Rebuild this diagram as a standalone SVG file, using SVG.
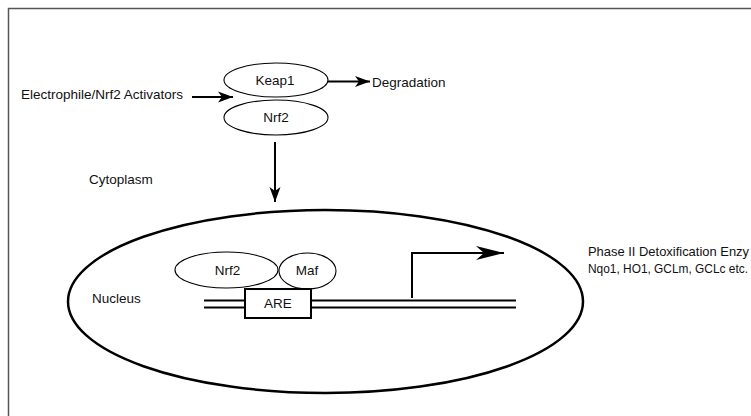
<svg xmlns="http://www.w3.org/2000/svg" width="751" height="416" viewBox="0 0 751 416">
<defs>
<marker id="ah" markerUnits="userSpaceOnUse" markerWidth="20" markerHeight="16" refX="15" refY="6" orient="auto" viewBox="0 0 20 12">
<path d="M0,0.5 L15,6 L0,11.5 L4,6 Z" fill="#000"/>
</marker>
<marker id="ahb" markerUnits="userSpaceOnUse" markerWidth="30" markerHeight="16" refX="28" refY="7" orient="auto" viewBox="0 0 30 14">
<path d="M0,0 L28,7 L0,14 L8,7 Z" fill="#000"/>
</marker>
</defs>
<style>
text{font-family:"Liberation Sans",Arial,sans-serif;font-size:13.5px;fill:#111}
.c{text-anchor:middle}
.thin{fill:#fff;stroke:#000;stroke-width:1.1}
.arr{fill:none;stroke:#000;stroke-width:2}
.dna{fill:none;stroke:#000;stroke-width:2}
</style>
<rect width="751" height="416" fill="#fff"/>
<rect x="8.5" y="8.5" width="800" height="500" fill="none" stroke="#555" stroke-width="1.5"/>
<g id="labels">
<text x="21" y="98.5">Electrophile/Nrf2 Activators</text>
<text x="372" y="86.5">Degradation</text>
<text x="89" y="184">Cytoplasm</text>
<text x="92" y="303">Nucleus</text>
<text x="588" y="256" style="font-size:13px" textLength="161" lengthAdjust="spacingAndGlyphs">Phase II Detoxification Enzy</text>
<text x="588" y="273" style="font-size:13px" textLength="160" lengthAdjust="spacingAndGlyphs">Nqo1, HO1, GCLm, GCLc etc.</text>
</g>
<g id="nucleus">
<ellipse cx="325.5" cy="301.5" rx="257.5" ry="91.5" fill="none" stroke="#000" stroke-width="2.5"/>
</g>
<g id="keap1">
<ellipse class="thin" cx="276" cy="80" rx="52" ry="17"/>
<text class="c" x="275" y="84.5">Keap1</text>
</g>
<g id="nrf2-cyto">
<ellipse class="thin" cx="276" cy="117.5" rx="52" ry="17.5"/>
<text class="c" x="276" y="122">Nrf2</text>
</g>
<g id="nrf2-nuc">
<ellipse class="thin" cx="226.5" cy="270" rx="51.5" ry="18"/>
<text class="c" x="227.5" y="275">Nrf2</text>
</g>
<g id="maf">
<ellipse class="thin" cx="307.5" cy="271" rx="28.5" ry="18"/>
<text class="c" x="307" y="275">Maf</text>
</g>
<g id="dna">
<path class="dna" d="M204,300.5 H245 M204,307.5 H245 M311,300.5 H516 M311,307.5 H516"/>
</g>
<g id="are">
<rect x="245" y="289" width="66" height="29" fill="#fff" stroke="#000" stroke-width="2"/>
<text class="c" x="278" y="308">ARE</text>
</g>
<g id="connectors">
<line class="arr" x1="192" y1="97" x2="233" y2="97" marker-end="url(#ah)"/>
<line class="arr" x1="328" y1="81.5" x2="370" y2="81.5" marker-end="url(#ah)"/>
<line class="arr" x1="275" y1="142" x2="275" y2="202" marker-end="url(#ah)"/>
<path class="arr" d="M412,298 V253 H504" marker-end="url(#ahb)"/>
</g>
</svg>
